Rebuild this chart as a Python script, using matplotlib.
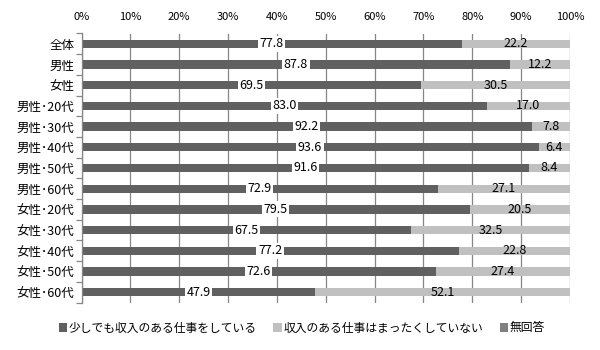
import matplotlib
matplotlib.use("Agg")
import matplotlib.pyplot as plt
import numpy as np

plt.rcParams['font.family'] = ['Noto Sans CJK JP', 'DejaVu Sans']

categories = ["全体", "男性", "女性",
              "男性･20代", "男性･30代", "男性･40代", "男性･50代", "男性･60代",
              "女性･20代", "女性･30代", "女性･40代", "女性･50代", "女性･60代"]
working = [77.8, 87.8, 69.5, 83.0, 92.2, 93.6, 91.6, 72.9, 79.5, 67.5, 77.2, 72.6, 47.9]
not_working = [22.2, 12.2, 30.5, 17.0, 7.8, 6.4, 8.4, 27.1, 20.5, 32.5, 22.8, 27.4, 52.1]
no_answer = [0.0] * 13
series_names = ["少しでも収入のある仕事をしている", "収入のある仕事はまったくしていない", "無回答"]
colors = ["#606060", "#c0c0c0", "#808080"]
xticks = [0, 10, 20, 30, 40, 50, 60, 70, 80, 90, 100]

fig = plt.figure(figsize=(6, 3.5), dpi=100)
ax = fig.add_axes([81.5 / 600, 1 - 302.5 / 350, (570 - 81.5) / 600, (302.5 - 33.5) / 350])

y = np.arange(len(categories))
h = 0.4
w = np.array(working)
n = np.array(not_working)
a = np.array(no_answer)

b1 = ax.barh(y, w, height=h, color=colors[0], label=series_names[0], zorder=2)
b2 = ax.barh(y, n, left=w, height=h, color=colors[1], label=series_names[1], zorder=2)
b3 = ax.barh(y, a, left=w + n, height=h, color=colors[2], label=series_names[2], zorder=2)

for yi, wi, ni in zip(y, w, n):
    ax.text(wi / 2, yi, f"{wi:.1f}", ha="center", va="center", fontsize=9, zorder=4,
            bbox=dict(boxstyle="square,pad=0.12", fc="white", ec="none"))
    ax.text(wi + ni / 2, yi, f"{ni:.1f}", ha="center", va="center", fontsize=9, zorder=4)

ax.set_xlim(0, 100)
ax.set_ylim(len(categories) - 0.5, -0.5)
ax.xaxis.tick_top()
ax.set_xticks(xticks)
ax.set_xticklabels([f"{t}%" for t in xticks], fontsize=8)
ax.tick_params(axis="x", length=0, pad=8)
ax.grid(axis="x", color="#868686", linewidth=0.9, zorder=1)

ax.set_yticks(y)
ax.set_yticklabels(categories, fontsize=9)
ax.tick_params(axis="y", length=0, pad=5)
ax.set_yticks(np.arange(-0.5, len(categories)), minor=True)
ax.tick_params(axis="y", which="minor", length=4, color="#868686", width=0.9)

for side in ["top", "right", "bottom"]:
    ax.spines[side].set_visible(False)
ax.spines["left"].set_color("#868686")
ax.spines["left"].set_linewidth(0.9)

fig.legend(handles=[b1, b2, b3], labels=series_names, loc="center",
           bbox_to_anchor=(0.503, 1 - 328 / 350), ncol=3, frameon=False, fontsize=8.5,
           handlelength=0.7, handleheight=0.7, handletextpad=0.15, columnspacing=1.4)

fig.savefig("out.png", dpi=100)
